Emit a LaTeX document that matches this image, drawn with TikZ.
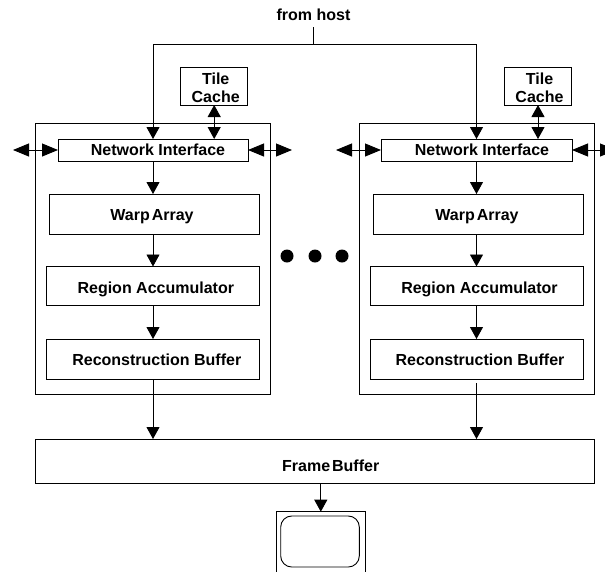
\documentclass[tikz,border=0pt]{standalone}
\usepackage{fontspec}
\setmainfont{Liberation Sans}
\usetikzlibrary{arrows.meta}
\newcommand{\lblfont}{\fontsize{16}{18}\bfseries}
\tikzset{
  block/.style={draw, line width=0.9pt, inner sep=0pt, outer sep=0pt, font=\lblfont},
  sunk/.style={text height=#1, text depth=0pt},
  flow/.style={line width=0.9pt, -{Triangle[length=12pt,width=13pt]}},
  flowboth/.style={line width=0.9pt, {Triangle[length=12pt,width=13pt]}-{Triangle[length=12pt,width=13pt]}},
  flowside/.style={line width=0.9pt, {Triangle[length=16pt,width=13pt]}-{Triangle[length=16pt,width=13pt]}},
  spot/.style={circle, fill, inner sep=0pt, minimum size=13pt}
}
\begin{document}
\begin{tikzpicture}[x=1pt,y=-1pt]
\useasboundingbox (0,0) rectangle (605,571);

\node[font=\lblfont, inner sep=0pt, minimum height=24pt] (lblHost) at (313.5,15) {from host};
\coordinate (busJoin) at (313.5,44);

% left unit
\node[block, minimum width=234.5pt, minimum height=271pt] (unitA) at (152.75,258.5) {};
\node[block, align=center, sunk=32.6pt, minimum width=67pt, minimum height=38pt] (tileA) at (214.2,86) {\hspace*{3pt}Tile\\\hspace*{3pt}Cache};
\node[block, minimum width=190pt, minimum height=22pt] (netA) at (153,150) {\hspace*{10pt}Network Interface};
\node[block, sunk=13.4pt, minimum width=210pt, minimum height=40pt] (warpA) at (154,214) {\hspace*{-4pt}Warp\hspace{-2.5pt} Array};
\node[block, sunk=14.8pt, minimum width=213pt, minimum height=39pt] (regionA) at (152.8,286) {\hspace*{6pt}Region Accumulator};
\node[block, sunk=12pt, minimum width=213pt, minimum height=40pt] (reconA) at (152.8,359) {\hspace*{8pt}Reconstruction Buffer};

% right unit
\node[block, minimum width=235pt, minimum height=271pt] (unitB) at (476.5,258.5) {};
\node[block, align=center, sunk=32.6pt, minimum width=67pt, minimum height=38pt] (tileB) at (538,86) {\hspace*{3pt}Tile\\\hspace*{3pt}Cache};
\node[block, minimum width=191pt, minimum height=22pt] (netB) at (476.5,150) {\hspace*{11pt}Network Interface};
\node[block, sunk=13.4pt, minimum width=210pt, minimum height=40pt] (warpB) at (478,214) {\hspace*{-2pt}Warp\hspace{-2.5pt} Array};
\node[block, sunk=14.8pt, minimum width=213pt, minimum height=39pt] (regionB) at (476.5,286) {\hspace*{6pt}Region Accumulator};
\node[block, sunk=12pt, minimum width=213pt, minimum height=40pt] (reconB) at (476.5,359) {\hspace*{7pt}Reconstruction Buffer};

\node[block, sunk=20.8pt, minimum width=558.5pt, minimum height=44pt] (frame) at (314.75,461) {\hspace*{32pt}Frame\hspace{-2.5pt} Buffer};
% bottom edge falls outside the page
\node[block, minimum width=89.6pt, minimum height=70pt] (monitor) at (320.8,546.7) {};
\node[draw, line width=0.9pt, rounded corners=11pt, inner sep=0pt, minimum width=78.6pt, minimum height=51pt] (screen) at (320,541.5) {};

\node[spot] (dotA) at (287,256) {};
\node[spot] (dotB) at (315,256) {};
\node[spot] (dotC) at (342,256) {};

\draw[line width=0.9pt] (lblHost.south) -- (busJoin);
\draw[flow] (busJoin) -| (netA.north);
\draw[flow] (busJoin) -| (netB.north);

\draw[flowboth] (tileA.south) -- (tileA.south |- netA.north);
\draw[flowboth] (tileB.south) -- (tileB.south |- netB.north);

\coordinate (sideA) at (13,150);
\coordinate (sideB) at (292,150);
\coordinate (sideC) at (336,150);
\coordinate (sideD) at (616,150);
\draw[flowside] (sideA) -- (netA.west);
\draw[flowside] (netA.east) -- (sideB);
\draw[flowside] (sideC) -- (netB.west);
\draw[flowside] (netB.east) -- (sideD);

\draw[flow] (netA.south) -- (netA.south |- warpA.north);
\draw[flow] (netA.south |- warpA.south) -- (netA.south |- regionA.north);
\draw[flow] (netA.south |- regionA.south) -- (netA.south |- reconA.north);
\draw[flow] (netA.south |- reconA.south) -- (netA.south |- frame.north);

\draw[flow] (netB.south) -- (netB.south |- warpB.north);
\draw[flow] (netB.south |- warpB.south) -- (netB.south |- regionB.north);
\draw[flow] (netB.south |- regionB.south) -- (netB.south |- reconB.north);
\coordinate (outB) at (476.5,383);
\draw[flow] (outB) -- (outB |- frame.north);

\draw[flow] (monitor.north |- frame.south) -- (monitor.north);

\end{tikzpicture}
\end{document}
